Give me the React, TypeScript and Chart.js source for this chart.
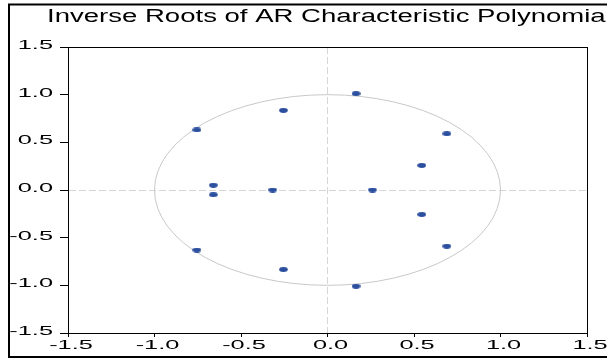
import React, { useEffect, useRef } from "react";
import { Chart, registerables } from "chart.js";

Chart.register(...registerables);

const chartTitle = "Inverse Roots of AR Characteristic Polynomial";
const rootsReal = [0.165, 0.165, -0.255, -0.255, -0.755, -0.755, 0.69, 0.69, 0.545, 0.545, -0.66, -0.66, -0.317, 0.26];
const rootsImag = [1.01, -1.01, 0.835, -0.835, 0.63, -0.63, 0.59, -0.59, 0.257, -0.257, 0.05, -0.05, 0, 0];
const axisTicks = [-1.5, -1.0, -0.5, 0.0, 0.5, 1.0, 1.5];
const axisTickLabels = ["-1.5", "-1.0", "-0.5", "0.0", "0.5", "1.0", "1.5"];
const unitRadius = 1;

const DOT_COLOR = "#2b4f9e";
const TICK_FONT = "13px 'Liberation Sans', Arial, sans-serif";
const TITLE_FONT = "18px 'Liberation Sans', Arial, sans-serif";
const TICK_STRETCH = 1.95;
const TITLE_STRETCH = 1.53;

function makeDot(): HTMLCanvasElement {
  const c = document.createElement("canvas");
  c.width = 9;
  c.height = 5;
  const g = c.getContext("2d")!;
  g.fillStyle = DOT_COLOR;
  g.beginPath();
  g.ellipse(4.5, 2.5, 4.3, 2.4, 0, 0, Math.PI * 2);
  g.fill();
  return c;
}

function stretchedText(ctx: CanvasRenderingContext2D, text: string, x: number, y: number, sx: number, align: CanvasTextAlign) {
  ctx.save();
  ctx.scale(sx, 1);
  ctx.textAlign = align;
  ctx.textBaseline = "alphabetic";
  ctx.fillText(text, x / sx, y);
  ctx.restore();
}

const decorPlugin = {
  id: "decor",
  beforeDatasetsDraw(chart: any) {
    const { ctx, scales } = chart;
    const xs = scales.x;
    const ys = scales.y;
    const cx = xs.getPixelForValue(0);
    const cy = ys.getPixelForValue(0);
    const rx = xs.getPixelForValue(unitRadius) - cx;
    const ry = cy - ys.getPixelForValue(unitRadius);
    ctx.save();
    ctx.strokeStyle = "#c8c8c8";
    ctx.lineWidth = 1;
    ctx.beginPath();
    ctx.ellipse(cx, cy, rx, ry, 0, 0, Math.PI * 2);
    ctx.stroke();
    ctx.restore();
  },
  afterDraw(chart: any) {
    const { ctx, scales, chartArea } = chart;
    const xs = scales.x;
    const ys = scales.y;
    ctx.save();
    ctx.strokeStyle = "#000";
    ctx.lineWidth = 1;
    ctx.strokeRect(
      Math.round(chartArea.left) + 0.5,
      Math.round(chartArea.top) + 0.5,
      Math.round(chartArea.right - chartArea.left),
      Math.round(chartArea.bottom - chartArea.top)
    );
    ctx.lineWidth = 2;
    ctx.beginPath();
    ctx.moveTo(640, 4.5);
    ctx.lineTo(9, 4.5);
    ctx.lineTo(9, 357);
    ctx.lineTo(640, 357);
    ctx.stroke();
    ctx.fillStyle = "#000";
    ctx.font = TICK_FONT;
    axisTicks.forEach((v, i) => {
      const py = ys.getPixelForValue(v);
      stretchedText(ctx, axisTickLabels[i], chartArea.left - 15, py + 2, TICK_STRETCH, "right");
      const px = xs.getPixelForValue(v);
      stretchedText(ctx, axisTickLabels[i], px + 3, chartArea.bottom + 16, TICK_STRETCH, "center");
    });
    ctx.font = TITLE_FONT;
    stretchedText(ctx, chartTitle, 47, 22, TITLE_STRETCH, "left");
    ctx.restore();
  },
};

export default function App() {
  const ref = useRef<HTMLCanvasElement | null>(null);
  useEffect(() => {
    if (!ref.current) return;
    const dot = makeDot();
    const points = rootsReal.map((x, i) => ({ x, y: rootsImag[i] }));
    const gridColor = (c: any) => (c.tick && c.tick.value === 0 ? "#d6d6d6" : "rgba(0,0,0,0)");
    const chart = new Chart(ref.current, {
      type: "scatter",
      data: {
        datasets: [
          {
            label: "Inverse roots",
            data: points,
            pointStyle: dot as any,
            pointRadius: 4,
            backgroundColor: DOT_COLOR,
            borderColor: DOT_COLOR,
          },
        ],
      },
      options: {
        animation: false,
        responsive: false,
        devicePixelRatio: 1,
        layout: { padding: { left: 60, right: 20, top: 47, bottom: 23 }, autoPadding: false },
        plugins: { legend: { display: false }, title: { display: false }, tooltip: { enabled: false } },
        scales: {
          x: {
            type: "linear",
            min: -1.5,
            max: 1.5,
            ticks: { display: false, stepSize: 0.5 },
            grid: { display: true, drawOnChartArea: true, drawTicks: true, tickLength: 4, color: gridColor, tickColor: "#000", lineWidth: 1 },
            border: { display: true, color: "#000", width: 1, dash: [7, 3] },
          },
          y: {
            type: "linear",
            min: -1.5,
            max: 1.5,
            ticks: { display: false, stepSize: 0.5 },
            grid: { display: true, drawOnChartArea: true, drawTicks: true, tickLength: 8, color: gridColor, tickColor: "#000", lineWidth: 1 },
            border: { display: true, color: "#000", width: 1, dash: [7, 3] },
          },
        },
      },
      plugins: [decorPlugin],
    });
    return () => chart.destroy();
  }, []);
  return (
    <div style={{ position: "absolute", left: 0, top: 0, width: 607, height: 360, background: "#fff" }}>
      <canvas ref={ref} width={607} height={360} style={{ width: 607, height: 360, display: "block" }} />
    </div>
  );
}
